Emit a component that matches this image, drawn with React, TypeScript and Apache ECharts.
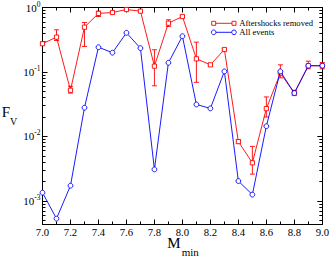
import React, { useEffect, useRef } from 'react';
import * as echarts from 'echarts';

// ---- data ----
const mMin = [7.0, 7.1, 7.2, 7.3, 7.4, 7.5, 7.6, 7.7, 7.8, 7.9, 8.0, 8.1, 8.2, 8.3, 8.4, 8.5, 8.6, 8.7, 8.8, 8.9, 9.0];
const aftershocksRemoved = [0.274, 0.347, 0.052, 0.495, 0.81, 0.836, 0.931, 0.877, 0.123, 0.571, 0.725, 0.16, 0.129, 0.223, 0.0083, 0.0039, 0.027, 0.096, 0.047, 0.125, 0.125];
const errLow = [0.26, 0.308, 0.047, 0.249, 0.725, 0.8, 0.9, 0.85, 0.061, 0.508, 0.7, 0.069, 0.124, 0.215, 0.0078, 0.0026, 0.02, 0.081, 0.043, 0.112, 0.112];
const errHigh = [0.29, 0.451, 0.06, 0.585, 0.877, 0.87, 0.96, 0.91, 0.221, 0.645, 0.75, 0.29, 0.134, 0.231, 0.0089, 0.007, 0.041, 0.129, 0.052, 0.147, 0.14];
const allEvents = [0.00134, 0.00053, 0.00172, 0.0279, 0.242, 0.199, 0.405, 0.234, 0.00308, 0.139, 0.359, 0.0313, 0.0272, 0.102, 0.00203, 0.00125, 0.0144, 0.102, 0.047, 0.125, 0.125];

const seriesNames = ['Aftershocks removed', 'All events'];
const xMin = 7.0;
const xMax = 9.0;
const xInterval = 0.2;
const yMin = 0.00043;
const yMax = 1;
const yMajorTicks = [0.001, 0.01, 0.1, 1];
const yMinorMultipliers = [2, 3, 4, 5, 6, 7, 8, 9];
const yMinorTicks: number[] = [];
[0.0001, 0.001, 0.01, 0.1].forEach((d) =>
  yMinorMultipliers.forEach((m) => {
    const v = +(d * m).toPrecision(3);
    if (v >= yMin && v <= yMax) yMinorTicks.push(v);
  })
);

const RED = '#ff0000';
const BLUE = '#0000ff';
const FONT = 'Liberation Serif';

export default function App() {
  const ref = useRef<HTMLDivElement>(null);
  useEffect(() => {
    if (!ref.current) return;
    const chart = echarts.init(ref.current, undefined, { renderer: 'svg' });
    const grid = { left: 42.5, right: 9, top: 6.5, bottom: 32.5 };
    const axisLine = { show: true, onZero: false, lineStyle: { color: '#000', width: 1 } };
    const tickStyle = { color: '#000', width: 1 };
    const xBase = (position: 'bottom' | 'top', labels: boolean) => ({
      type: 'value',
      min: xMin,
      max: xMax,
      interval: xInterval,
      position,
      axisLine,
      axisTick: { show: true, inside: true, length: 5, lineStyle: tickStyle },
      minorTick: { show: true, splitNumber: 2, length: 3, lineStyle: tickStyle },
      axisLabel: labels
        ? { show: true, margin: 2, color: '#000', fontFamily: FONT, fontSize: 10.7, formatter: (v: number) => v.toFixed(1) }
        : { show: false },
      splitLine: { show: false },
      minorSplitLine: { show: false },
    });
    const yBase = (position: 'left' | 'right', major: boolean, labels: boolean) => ({
      type: 'log',
      logBase: 10,
      min: yMin,
      max: yMax,
      position,
      axisLine: major ? axisLine : { show: false },
      axisTick: {
        show: true,
        inside: true,
        length: major ? 5 : 3,
        customValues: major ? yMajorTicks : yMinorTicks,
        lineStyle: tickStyle,
      },
      minorTick: { show: false },
      axisLabel: labels
        ? {
            show: true,
            customValues: yMajorTicks,
            margin: 2,
            color: '#000',
            formatter: (v: number) => `{b|10}{e|${Math.round(Math.log10(v))}}`,
            rich: {
              b: { fontFamily: FONT, fontSize: 11, color: '#000' },
              e: { fontFamily: FONT, fontSize: 7.5, color: '#000', padding: [0, 0, 7, 0] },
            },
          }
        : { show: false },
      splitLine: { show: false },
    });

    const legendY = [23.3, 32.3];
    const graphic: any[] = [
      { type: 'text', x: 1.7, y: 112.3, style: { text: 'F', font: `15px "${FONT}"`, fill: '#000', verticalAlign: 'middle' } },
      { type: 'text', x: 10, y: 121, style: { text: 'V', font: `10px "${FONT}"`, fill: '#000', verticalAlign: 'middle' } },
      { type: 'text', x: 167.3, y: 243.3, style: { text: 'M', font: `15px "${FONT}"`, fill: '#000', verticalAlign: 'middle' } },
      { type: 'text', x: 181.7, y: 252, style: { text: 'min', font: `11px "${FONT}"`, fill: '#000', verticalAlign: 'middle' } },
    ];
    seriesNames.forEach((name, i) => {
      const color = i === 0 ? RED : BLUE;
      const y = legendY[i];
      graphic.push({ type: 'line', shape: { x1: 213.7, y1: y, x2: 234, y2: y }, style: { stroke: color, lineWidth: 0.9 } });
      [213.7, 234].forEach((cx) => {
        if (i === 0) {
          graphic.push({ type: 'rect', shape: { x: cx - 2, y: y - 2, width: 4, height: 4 }, style: { stroke: color, fill: '#fff', lineWidth: 0.9 } });
        } else {
          graphic.push({ type: 'circle', shape: { cx, cy: y, r: 2.3 }, style: { stroke: color, fill: '#fff', lineWidth: 0.9 } });
        }
      });
      graphic.push({ type: 'text', x: 239.3, y, style: { text: name, font: `8.6px "${FONT}"`, fill: '#000', verticalAlign: 'middle' } });
    });

    chart.setOption({
      animation: false,
      textStyle: { fontFamily: FONT },
      grid,
      xAxis: [xBase('bottom', true), xBase('top', false)],
      yAxis: [yBase('left', true, true), yBase('left', false, false), yBase('right', true, false), yBase('right', false, false)],
      graphic,
      series: [
        {
          type: 'custom',
          name: 'errors',
          xAxisIndex: 0,
          yAxisIndex: 0,
          z: 1,
          encode: { x: 0, y: [1, 2] },
          data: mMin.map((x, i) => [x, errLow[i], errHigh[i]]),
          renderItem: (_params: any, api: any) => {
            const x = api.value(0);
            const lo = api.coord([x, api.value(1)]);
            const hi = api.coord([x, api.value(2)]);
            const w = 2.5;
            const style = { stroke: RED, lineWidth: 0.9 };
            return {
              type: 'group',
              children: [
                { type: 'line', shape: { x1: lo[0], y1: lo[1], x2: hi[0], y2: hi[1] }, style },
                { type: 'line', shape: { x1: lo[0] - w, y1: lo[1], x2: lo[0] + w, y2: lo[1] }, style },
                { type: 'line', shape: { x1: hi[0] - w, y1: hi[1], x2: hi[0] + w, y2: hi[1] }, style },
              ],
            };
          },
        },
        {
          type: 'line',
          name: seriesNames[0],
          xAxisIndex: 0,
          yAxisIndex: 0,
          z: 2,
          data: mMin.map((x, i) => [x, aftershocksRemoved[i]]),
          symbol: 'rect',
          symbolSize: 4.2,
          lineStyle: { color: RED, width: 0.9 },
          itemStyle: { color: '#fff', borderColor: RED, borderWidth: 0.9 },
        },
        {
          type: 'line',
          name: seriesNames[1],
          xAxisIndex: 0,
          yAxisIndex: 0,
          z: 3,
          data: mMin.map((x, i) => [x, allEvents[i]]),
          symbol: 'circle',
          symbolSize: 4.8,
          lineStyle: { color: BLUE, width: 0.9 },
          itemStyle: { color: '#fff', borderColor: BLUE, borderWidth: 0.9 },
        },
      ],
    });
    return () => chart.dispose();
  }, []);
  return <div ref={ref} style={{ position: 'fixed', left: 0, top: 0, width: 332, height: 257, background: '#fff' }} />;
}
